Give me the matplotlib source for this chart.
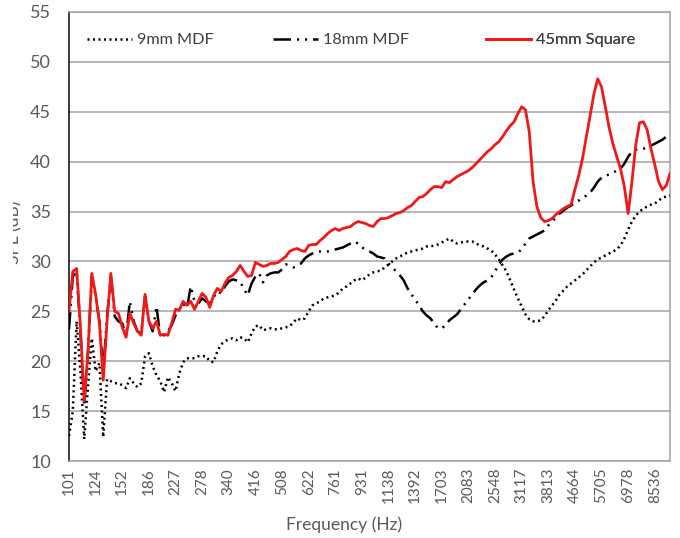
import matplotlib
matplotlib.use('Agg')
import matplotlib.pyplot as plt
from matplotlib.transforms import Bbox

plt.rcParams['font.family'] = ['Lato', 'DejaVu Sans']

tick_labels = ['101', '124', '152', '186', '227', '278', '340', '416', '508', '622',
               '761', '931', '1138', '1392', '1703', '2083', '2548', '3117', '3813',
               '4664', '5705', '6978', '8536']
series_names = ['9mm MDF', '18mm MDF', '45mm Square']

spl_9mm = [
    12.5, 15.0, 24.0, 19.0, 12.2, 17.5, 22.3, 19.0, 19.8, 12.4,
    18.2, 18.0, 17.8, 17.8, 17.6, 17.3, 18.3, 17.8, 17.4, 17.8,
    20.5, 20.8, 19.5, 18.6, 18.0, 16.9, 18.4, 17.8, 17.0, 18.8,
    19.9, 20.3, 20.3, 20.3, 20.5, 20.5, 20.5, 20.0, 19.9, 21.0,
    21.7, 22.0, 22.2, 22.3, 22.1, 22.4, 22.3, 21.9, 22.8, 23.5,
    23.6, 23.1, 23.2, 23.3, 23.2, 23.2, 23.3, 23.4, 23.5, 23.9,
    24.3, 24.1, 24.3, 25.0, 25.6, 25.8, 26.0, 26.3, 26.4, 26.5,
    26.6, 26.9, 27.3, 27.5, 27.8, 28.1, 28.3, 28.1, 28.4, 28.7,
    28.9, 29.0, 29.1, 29.4, 29.7, 30.0, 30.3, 30.5, 30.7, 30.9,
    31.0, 31.1, 31.2, 31.3, 31.5, 31.5, 31.6, 31.7, 31.9, 32.1,
    32.3, 32.0, 31.8, 31.9, 32.0, 32.0, 32.0, 31.8, 31.6, 31.5,
    31.3, 31.1, 30.7, 30.2, 29.6, 29.0, 28.1, 27.2, 26.3, 25.5,
    24.7, 24.2, 24.0, 24.0, 24.1, 24.5, 25.1, 25.6, 26.1, 26.7,
    27.1, 27.5, 27.8, 28.1, 28.4, 28.7, 29.1, 29.5, 29.9, 30.2,
    30.4, 30.6, 30.8, 31.0, 31.2, 31.6, 32.3, 33.2, 34.0, 34.6,
    35.0, 35.3, 35.5, 35.7, 35.8, 36.1, 36.4, 36.5, 36.6]

spl_18mm = [
    23.2, 28.5, 29.0, 23.0, 15.5, 21.0, 28.5, 26.5, 24.0, 19.0,
    24.5, 28.5, 24.5, 24.0, 23.8, 22.5, 26.0, 24.0, 23.0, 22.8,
    26.5, 24.0, 23.0, 25.5, 22.4, 22.6, 23.0, 23.6, 24.6, 25.2,
    25.8, 25.3, 27.5, 26.0, 25.8, 26.3, 26.0, 25.8, 26.4, 27.0,
    26.8, 27.5, 28.0, 28.2, 28.1, 28.0, 27.2, 26.6, 27.8, 28.5,
    28.8, 27.9, 28.6, 28.8, 28.9, 28.9, 29.2, 29.7, 29.6, 29.4,
    29.6, 29.8, 30.3, 30.6, 30.8, 31.0, 31.0, 31.0, 31.0, 31.1,
    31.2, 31.3, 31.4, 31.6, 31.8, 32.0, 31.8, 31.4, 31.2, 31.0,
    30.8, 30.5, 30.4, 30.3, 29.8, 29.4, 29.0, 28.6, 28.1, 27.3,
    26.7, 26.2, 25.6, 25.0, 24.6, 24.3, 23.8, 23.3, 23.3, 23.6,
    24.1, 24.4, 24.7, 25.2, 25.7, 26.2, 26.7, 27.2, 27.6, 27.9,
    28.1, 28.4, 29.0, 29.7, 30.2, 30.5, 30.7, 30.8, 30.9, 31.2,
    31.8, 32.3, 32.5, 32.7, 32.9, 33.1, 33.6, 34.0, 34.4, 34.8,
    35.1, 35.4, 35.6, 35.9, 36.1, 36.4, 36.6, 36.9, 37.4, 38.0,
    38.4, 38.6, 38.7, 38.9, 39.1, 39.3, 39.8, 40.5, 41.0, 41.2,
    41.2, 41.3, 41.4, 41.6, 41.8, 42.0, 42.2, 42.5, 42.8]

spl_45mm = [
    25.0, 29.0, 29.3, 23.5, 16.0, 21.0, 28.8, 26.7, 23.8, 18.1,
    24.0, 28.8, 25.0, 24.8, 23.4, 22.4, 24.8, 23.8, 23.0, 22.6,
    26.7, 24.0, 23.3, 24.0, 22.6, 22.7, 22.6, 23.8, 25.2, 25.1,
    26.0, 25.6, 26.0, 25.2, 26.0, 26.8, 26.4, 25.4, 26.6, 27.3,
    27.0, 27.8, 28.4, 28.6, 29.0, 29.6, 29.0, 28.5, 28.6, 29.9,
    29.7, 29.5, 29.6, 29.8, 29.8, 29.9, 30.2, 30.5, 31.0, 31.2,
    31.3, 31.1, 31.0, 31.6, 31.7, 31.7, 32.1, 32.4, 32.8, 33.1,
    33.3, 33.1, 33.3, 33.4, 33.5, 33.8, 34.0, 33.9, 33.8, 33.6,
    33.5, 34.0, 34.3, 34.3, 34.4, 34.6, 34.8, 34.9, 35.1, 35.4,
    35.6, 36.0, 36.4, 36.5, 36.8, 37.2, 37.5, 37.5, 37.4, 38.0,
    37.9, 38.2, 38.5, 38.7, 38.9, 39.1, 39.4, 39.8, 40.2, 40.6,
    41.0, 41.3, 41.7, 42.0, 42.5, 43.1, 43.6, 44.0, 44.8, 45.5,
    45.2, 43.0, 38.0, 35.5, 34.4, 34.0, 34.1, 34.3, 34.7, 35.0,
    35.3, 35.5, 35.7, 37.2, 38.6, 40.3, 42.5, 44.6, 46.8, 48.3,
    47.5, 45.5, 43.4, 41.8, 40.5, 39.3, 37.5, 34.8, 38.0, 41.7,
    43.9, 44.0, 43.2, 41.3, 39.7, 38.0, 37.2, 37.6, 38.8]

x = list(range(len(spl_45mm)))

fig = plt.figure(figsize=(6.8, 5.38), dpi=100)
ax = fig.add_axes([69/680, 1 - 461/538, 601/680, 449/538])

grid_c = '#a8a2a2'
txt_c = '#595959'
ax.set_ylim(10, 55)
ax.set_xlim(0, len(x) - 1)
ax.set_yticks(range(10, 56, 5))
ax.yaxis.grid(True, color=grid_c, lw=1.1)
ax.set_axisbelow(True)

l1, = ax.plot(x, spl_9mm, color='black', lw=1.8, linestyle=(0, (0.8, 1.4)),
              label=series_names[0], zorder=3)
l2, = ax.plot(x, spl_18mm, color='black', lw=1.8,
              linestyle=(0, (7, 2.4, 0.8, 2.4, 0.8, 2.4)),
              label=series_names[1], zorder=3)
l3, = ax.plot(x, spl_45mm, color='#f01818', lw=2.0, label=series_names[2], zorder=4)

ax.set_xticks(range(0, len(x), 7))
ax.set_xticklabels(tick_labels, rotation=90, fontsize=11, color=txt_c)
ax.tick_params(axis='both', length=0)
ax.tick_params(axis='x', pad=5)
ax.tick_params(axis='y', labelsize=13, labelcolor=txt_c, pad=13)

for s in ['top', 'right', 'bottom']:
    ax.spines[s].set_color(grid_c)
    ax.spines[s].set_linewidth(1.1)
ax.spines['left'].set_color('#1a1a1a')
ax.spines['left'].set_linewidth(1.2)

fig.text(344/680, 1 - 525/538, 'Frequency (Hz)', fontsize=12.5, color=txt_c,
         ha='center', va='center')

handle_px = [87, 273, 486]
for line, hx in zip([l1, l2, l3], handle_px):
    lg = ax.legend(handles=[line], loc='center left', frameon=False, fontsize=11.7,
                   handlelength=2.75, handletextpad=0.35, borderpad=0,
                   borderaxespad=0,
                   bbox_to_anchor=((hx - 69) / 601, (461 - 40) / 449))
    for t in lg.get_texts():
        t.set_color('#404040')
    ax.add_artist(lg)

ylab = fig.text(14/680, 1 - 232/538, 'SPL (dB)', rotation=90, fontsize=12.5,
                color=txt_c, ha='center', va='center')
ylab.set_clip_box(Bbox.from_extents(13, 0, 30, 538))
ylab.set_clip_on(True)

fig.savefig('out.png', dpi=100)
